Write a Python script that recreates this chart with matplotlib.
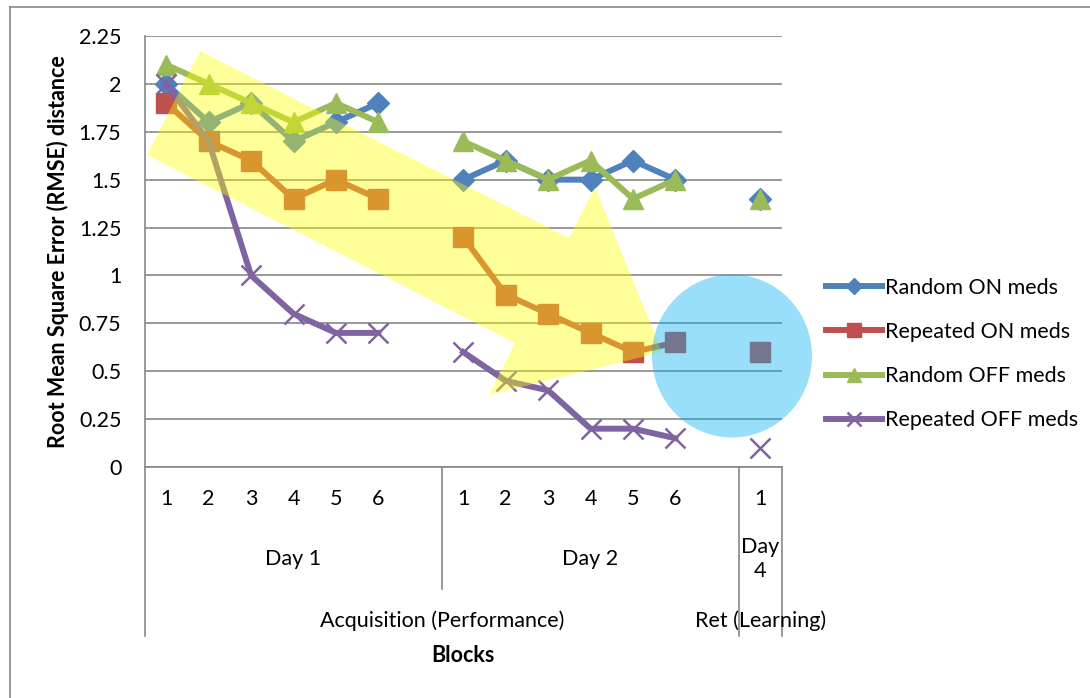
import numpy as np
import matplotlib.pyplot as plt
from matplotlib.patches import Polygon, Ellipse
from matplotlib.lines import Line2D

plt.rcParams['font.family'] = ['Lato', 'DejaVu Sans']

# categories: blocks within days, blank slot separates the days
blocks = ['1', '2', '3', '4', '5', '6', '', '1', '2', '3', '4', '5', '6', '', '1']
days = ['Day 1', 'Day 2', 'Day\n4']
day_spans = [7, 7, 1]
phases = ['Acquisition (Performance)', 'Ret (Learning)']
phase_spans = [14, 1]

nan = np.nan
random_on = [2.0, 1.8, 1.9, 1.7, 1.8, 1.9, nan, 1.5, 1.6, 1.5, 1.5, 1.6, 1.5, nan, 1.4]
repeated_on = [1.9, 1.7, 1.6, 1.4, 1.5, 1.4, nan, 1.2, 0.9, 0.8, 0.7, 0.6, 0.65, nan, 0.6]
random_off = [2.1, 2.0, 1.9, 1.8, 1.9, 1.8, nan, 1.7, 1.6, 1.5, 1.6, 1.4, 1.5, nan, 1.4]
repeated_off = [2.0, 1.7, 1.0, 0.8, 0.7, 0.7, nan, 0.6, 0.45, 0.4, 0.2, 0.2, 0.15, nan, 0.1]

W, H = 1090, 698
FS = 15.5
fig = plt.figure(figsize=(W / 100, H / 100), dpi=100)
ax = fig.add_axes([145 / W, 1 - 467 / H, (781.5 - 145) / W, (467 - 36) / H])

x = np.arange(len(blocks))
lw = 4.3
ax.plot(x, random_on, color='#4F81BD', lw=lw, marker='D', ms=11, label='Random ON meds')
ax.plot(x, repeated_on, color='#C0504D', lw=lw, marker='s', ms=14, label='Repeated ON meds')
ax.plot(x, random_off, color='#9BBB59', lw=lw, marker='^', ms=14, label='Random OFF meds')
ax.plot(x, repeated_off, color='#8064A2', lw=lw, marker='x', ms=14, mew=1.8, label='Repeated OFF meds')

ax.set_xlim(-0.5, len(blocks) - 0.5)
ax.set_ylim(0, 2.25)
yt = np.arange(0, 2.26, 0.25)
ax.set_yticks(yt)
ax.set_yticklabels(['0', '0.25', '0.5', '0.75', '1', '1.25', '1.5', '1.75', '2', '2.25'])
ax.tick_params(axis='y', length=0, pad=17, labelsize=FS)
ax.set_xticks([])
ax.grid(axis='y', color='#878787', lw=1.2)
ax.set_axisbelow(True)
for s in ['top', 'right']:
    ax.spines[s].set_visible(False)
for s in ['left', 'bottom']:
    ax.spines[s].set_color('#878787')
    ax.spines[s].set_linewidth(1.2)
ax.set_ylabel('Root Mean Square Error (RMSE) distance', fontsize=FS, fontweight='bold', labelpad=7)

# multi-level category axis
tr = ax.get_xaxis_transform()
def fy(py):
    return (467 - py) / 431

for i, b in enumerate(blocks):
    ax.text(i, fy(499), b, transform=tr, ha='center', va='center', fontsize=FS)

start = 0
for d, n in zip(days, day_spans):
    ax.text(start + n / 2 - 0.5, fy(559), d, transform=tr, ha='center', va='center',
            fontsize=FS, linespacing=1.3)
    start += n
start = 0
for p, n in zip(phases, phase_spans):
    ax.text(start + n / 2 - 0.5, fy(621), p, transform=tr, ha='center', va='center', fontsize=FS)
    start += n

sep_kw = dict(transform=tr, color='#878787', lw=1.2, clip_on=False)
ax.plot([-0.5, -0.5], [0, fy(636)], **sep_kw)
ax.plot([6.5, 6.5], [0, fy(589)], **sep_kw)
ax.plot([13.5, 13.5], [0, fy(636)], **sep_kw)
ax.plot([14.5, 14.5], [0, fy(636)], **sep_kw)

ax.text(7, fy(656), 'Blocks', transform=tr, ha='center', va='center', fontsize=FS, fontweight='bold')

ax.legend(loc='center left', bbox_to_anchor=(815 / W, 1 - 354 / H), bbox_transform=fig.transFigure,
          frameon=False, fontsize=FS, handlelength=2.6, handletextpad=0.15, labelspacing=1.12,
          markerscale=0.75, borderpad=0)

# annotation shapes: yellow arrow and blue circle
def fp(px, py):
    return (px / W, 1 - py / H)

arrow = [fp(200, 51), fp(569, 238), fp(595, 187), fp(662, 352), fp(489, 395), fp(515, 343), fp(147, 155)]
fig.add_artist(Polygon(arrow, closed=True, facecolor='#FFFF00', alpha=0.4, edgecolor='none',
                       transform=fig.transFigure))
fig.add_artist(Ellipse(fp(732, 356), 160 / W, 163 / H, facecolor='#00B0F0', alpha=0.4,
                       edgecolor='none', transform=fig.transFigure))

# outer chart border
fig.add_artist(Line2D([10 / W, 10 / W], [0, 1 - 7 / H], color='#878787', lw=1.2, transform=fig.transFigure))
fig.add_artist(Line2D([10 / W, 1], [1 - 7 / H, 1 - 7 / H], color='#878787', lw=1.2, transform=fig.transFigure))

fig.savefig('out.png', dpi=100)
